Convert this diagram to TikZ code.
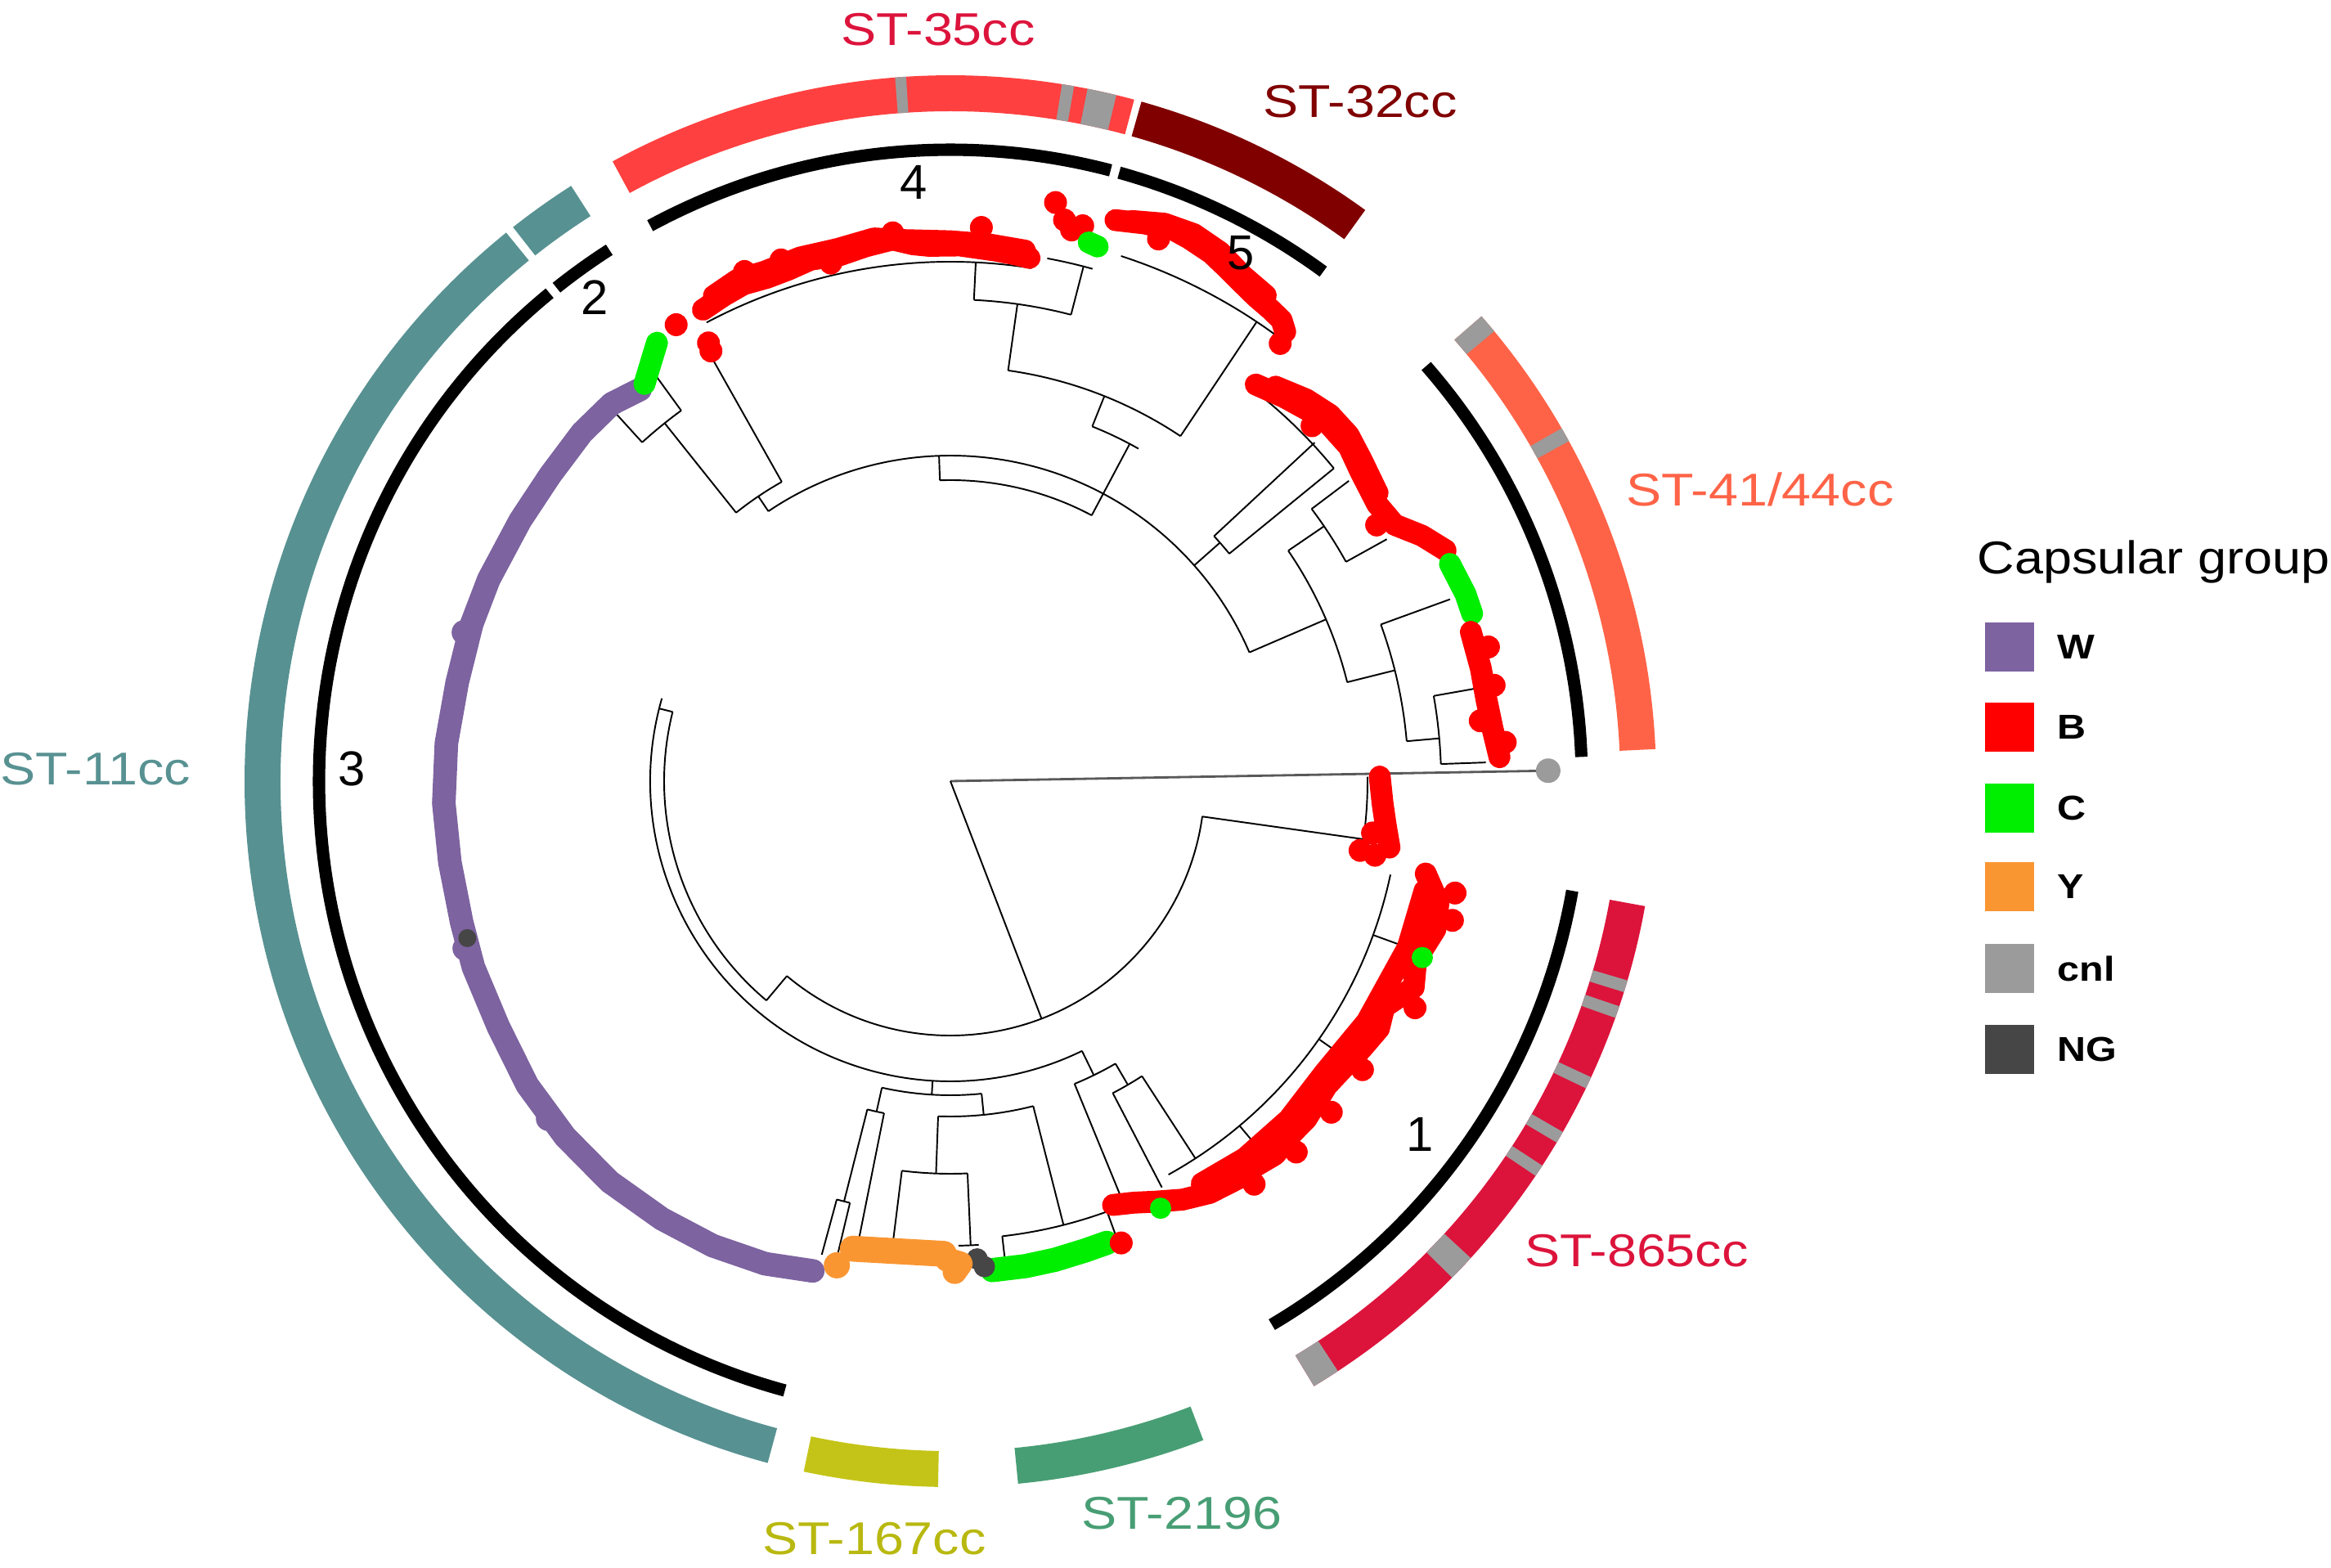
\documentclass[tikz,border=0pt]{standalone}
\usepackage{fontspec}
\setmainfont{Liberation Sans}
\usepackage{xcolor}
\usetikzlibrary{calc,positioning}

% Capsular groups
\definecolor{capW}{RGB}{125,99,160}
\definecolor{capB}{RGB}{255,0,0}
\definecolor{capC}{RGB}{0,238,0}
\definecolor{capY}{RGB}{250,150,50}
\definecolor{capcnl}{RGB}{155,155,155}
\definecolor{capNG}{RGB}{70,70,70}
% Clonal complexes
\definecolor{ccEleven}{RGB}{88,145,146}
\definecolor{ccOneSix}{RGB}{196,196,24}
\definecolor{ccOneSixTxt}{RGB}{184,184,16}
\definecolor{ccTwoOne}{RGB}{72,158,116}
\definecolor{ccEightSix}{RGB}{220,20,60}
\definecolor{ccFourOne}{RGB}{255,99,71}
\definecolor{ccThreeTwo}{RGB}{128,0,0}
\definecolor{ccThreeFive}{RGB}{255,64,64}

\newcommand{\widetxt}[1]{\scalebox{1.15}[1]{#1}}

\begin{document}
\begin{tikzpicture}[
    branch/.style={line width=0.55pt, black},
    tipline/.style={line width=7.6pt, line cap=round, line join=round},
    ringarc/.style={line width=12.5pt},
    cladearc/.style={line width=4.3pt, black},
    stlabel/.style={font=\fontsize{16}{18}\selectfont, inner sep=0pt},
    numlabel/.style={font=\fontsize{17}{19}\selectfont, inner sep=0pt},
    legbox/.style={minimum size=0.6cm, inner sep=0pt},
    legtext/.style={font=\fontsize{12}{14}\selectfont\bfseries, inner sep=0pt, anchor=west}
  ]

  \useasboundingbox (0,0) rectangle (28.5,19.16);

  % Root
  \coordinate (R) at (11.62,9.61);

  \begin{scope}[shift={(R)}]

    % --- Tree skeleton ---

    % Outlier
    \draw[line width=0.8pt, gray!70!black] (0,0) -- (1:7.31);

    % Lower backbone
    \draw[branch] (0,0) -- (291:3.11);
    \draw[branch] (230:3.11) arc[start angle=230, end angle=352, radius=3.11];
    \draw[branch] (352:3.11) -- (352:5.1);
    \draw[branch] (350:5.1) arc[start angle=350, end angle=360.6, radius=5.1];

    % Left arcs
    \draw[branch] (230:3.11) -- (230:3.5);
    \draw[branch] (166:3.5) arc[start angle=166, end angle=230, radius=3.5];
    \draw[branch] (166:3.5) -- (166:3.67);
    \draw[branch] (164:3.67) arc[start angle=164, end angle=296, radius=3.67];

    % Y / C subtree
    \draw[branch] (266.6:3.67) -- (266.6:3.84);
    \draw[branch] (257.4:3.84) arc[start angle=257.4, end angle=275.7, radius=3.84];
    \draw[branch] (257.4:3.84) -- (257.4:4.14);
    \draw[branch] (255.8:4.14) arc[start angle=255.8, end angle=258.7, radius=4.14];
    \draw[branch] (255.8:4.14) -- (255.8:5.3);
    \draw[branch] (254.8:5.3) arc[start angle=254.8, end angle=256.6, radius=5.3];
    \draw[branch] (254.8:5.3) -- (254.8:6.0);
    \draw[branch] (256.6:5.3) -- (256.6:5.95);
    \draw[branch] (258.7:4.14) -- (258.7:5.7);
    \draw[branch] (275.7:3.84) -- (275.7:4.1);
    \draw[branch] (267.9:4.1) arc[start angle=267.9, end angle=284.3, radius=4.1];
    \draw[branch] (267.9:4.1) -- (267.9:4.8);
    \draw[branch] (262.9:4.8) arc[start angle=262.9, end angle=272.5, radius=4.8];
    \draw[branch] (262.9:4.8) -- (262.9:5.7);
    \draw[branch] (272.5:4.8) -- (272.5:5.68);
    \draw[branch] (271:5.68) arc[start angle=271, end angle=273.5, radius=5.68];
    \draw[branch] (284.3:4.1) -- (284.3:5.6);
    \draw[branch] (276.5:5.6) arc[start angle=276.5, end angle=290, radius=5.6];
    \draw[branch] (276.5:5.6) -- (276.5:5.85);
    \draw[branch] (290:5.6) -- (290:5.9);

    % ST-865cc subtree
    \draw[branch] (296:3.67) -- (296:4.0);
    \draw[branch] (292.3:4.0) arc[start angle=292.3, end angle=300.3, radius=4.0];
    \draw[branch] (292.3:4.0) -- (292.3:5.45);
    \draw[branch] (300.3:4.0) -- (300.3:4.3);
    \draw[branch] (297.5:4.3) arc[start angle=297.5, end angle=303, radius=4.3];
    \draw[branch] (297.5:4.3) -- (297.5:5.6);
    \draw[branch] (303:4.3) -- (303:5.5);
    \draw[branch] (299:5.5) arc[start angle=299, end angle=348, radius=5.5];
    \draw[branch] (310:5.5) -- (310:5.75);
    \draw[branch] (325:5.5) -- (325:5.8);
    \draw[branch] (340:5.5) -- (340:5.85);

    % Upper backbone
    \draw[branch] (23.3:3.98) arc[start angle=23.3, end angle=124, radius=3.98];
    \draw[branch] (62:3.68) arc[start angle=62, end angle=92, radius=3.68];
    \draw[branch] (92:3.68) -- (92:3.98);
    \draw[branch] (62:3.68) -- (62:4.67);
    \draw[branch] (60.5:4.67) arc[start angle=60.5, end angle=68.2, radius=4.67];
    \draw[branch] (68.2:4.67) -- (68.2:5.07);
    \draw[branch] (56.3:5.07) arc[start angle=56.3, end angle=82, radius=5.07];
    \draw[branch] (56.3:5.07) -- (56.3:6.75);
    \draw[branch] (53.5:6.75) arc[start angle=53.5, end angle=72, radius=6.75];
    \draw[branch] (82:5.07) -- (82:5.89);
    \draw[branch] (75.5:5.89) arc[start angle=75.5, end angle=87.2, radius=5.89];
    \draw[branch] (87.2:5.89) -- (87.2:6.35);
    \draw[branch] (81:6.35) arc[start angle=81, end angle=118, radius=6.35];
    \draw[branch] (75.5:5.89) -- (75.5:6.5);
    \draw[branch] (74.5:6.5) arc[start angle=74.5, end angle=79.5, radius=6.5];

    % Top-left subtree
    \draw[branch] (124:3.98) -- (124:4.2);
    \draw[branch] (119.4:4.2) arc[start angle=119.4, end angle=128.6, radius=4.2];
    \draw[branch] (119.4:4.2) -- (119.4:6.0);
    \draw[branch] (128.6:4.2) -- (128.6:5.6);
    \draw[branch] (126:5.6) arc[start angle=126, end angle=132.3, radius=5.6];
    \draw[branch] (126:5.6) -- (126:6.1);
    \draw[branch] (132.3:5.6) -- (132.3:6.1);

    % ST-41/44cc subtree
    \draw[branch] (41.5:3.98) -- (41.5:4.4);
    \draw[branch] (39.2:4.4) arc[start angle=39.2, end angle=42.9, radius=4.4];
    \draw[branch] (42.9:4.4) -- (42.9:6.08);
    \draw[branch] (39.2:4.4) -- (39.2:6.05);
    \draw[branch] (39.2:6.05) arc[start angle=39.2, end angle=52, radius=6.05];
    \draw[branch] (23.3:3.98) -- (23.3:5.0);
    \draw[branch] (14:5.0) arc[start angle=14, end angle=34.3, radius=5.0];
    \draw[branch] (34.3:5.0) -- (34.3:5.53);
    \draw[branch] (29:5.53) arc[start angle=29, end angle=37, radius=5.53];
    \draw[branch] (29:5.53) -- (29:6.1);
    \draw[branch] (37:5.53) -- (37:6.1);
    \draw[branch] (14:5.0) -- (14:5.6);
    \draw[branch] (5:5.6) arc[start angle=5, end angle=20, radius=5.6];
    \draw[branch] (20:5.6) -- (20:6.5);
    \draw[branch] (5:5.6) -- (5:6.0);
    \draw[branch] (2:6.0) arc[start angle=2, end angle=10, radius=6.0];
    \draw[branch] (2:6.0) -- (2:6.55);
    \draw[branch] (10:6.0) -- (10:6.5);

    % --- Tips ---

    % W
    \draw[tipline, capW, line width=8.2pt] plot coordinates {(128.4:6.11) (131.9:6.2) (136.6:6.2) (142.6:6.16) (148.8:6.15) (156.4:6.16) (161.8:6.16) (168.7:6.15) (175.7:6.18) (182.5:6.2) (189.2:6.2) (196.1:6.22) (201.3:6.26) (208.5:6.29) (215.7:6.37) (222.7:6.41) (229.6:6.43) (236.6:6.41) (242.9:6.38) (249:6.32) (254.3:6.22)};
    \fill[capW] (163:6.22) circle (0.15) (199:6.28) circle (0.15) (220:6.42) circle (0.15);
    \fill[capNG] (198:6.21) circle (0.11);

    % top-left C and B
    \draw[tipline, capC] plot coordinates {(127.6:6.13) (125.5:6.3) (123.8:6.45)};
    \fill[capB] (121:6.51) circle (0.14) (118.9:6.12) circle (0.14) (119.1:6.02) circle (0.14);

    % ST-35cc tips
    \draw[tipline, capB] plot coordinates {(117.7:6.51) (115:6.55) (112.6:6.58) (110:6.55) (107.6:6.56) (105:6.6) (101.9:6.57) (99:6.62) (96.1:6.66) (94:6.58) (92.3:6.55) (89:6.55) (85.1:6.51) (83:6.49) (81.4:6.47)};
    \draw[tipline, capB] plot coordinates {(116:6.6) (113:6.66) (110:6.63) (106:6.66) (102:6.65) (98:6.7) (95:6.64) (90:6.6) (86:6.58) (82:6.55)};
    \fill[capB] (86.8:6.78) circle (0.14) (96:6.74) circle (0.14) (108:6.7) circle (0.14) (112:6.72) circle (0.14) (103:6.5) circle (0.14);
    \fill[capB] (79.7:7.19) circle (0.14) (78.5:7.0) circle (0.14) (77.6:6.9) circle (0.14) (76.6:6.98) circle (0.14);
    \draw[tipline, capC] plot coordinates {(75.6:6.8) (74.6:6.78)};

    % ST-32cc tips
    \draw[tipline, capB] plot coordinates {(73.6:7.15) (70.8:7.22) (67.9:7.27) (66.3:7.25) (63.7:7.2) (61.8:7.13) (59.8:7.06) (57.7:7.0) (55.8:6.97) (54.3:6.94) (53.3:6.85)};
    \draw[tipline, capB] plot coordinates {(72:7.2) (69:7.3) (66:7.32) (63:7.26) (60:7.14) (57:7.08)};
    \fill[capB] (53:6.7) circle (0.14) (69:7.1) circle (0.14);

    % ST-41/44cc tips
    \draw[tipline, capB] plot coordinates {(52.4:6.12) (49:6.22) (46:6.3) (43.5:6.36) (40:6.36) (37:6.28) (33:6.22) (30:6.27) (27.5:6.5) (25:6.68)};
    \draw[tipline, capB] plot coordinates {(50.5:6.25) (47:6.38) (44:6.45) (41:6.45) (38:6.38) (34:6.3)};
    \draw[tipline, capC] plot coordinates {(23.5:6.66) (20:6.7) (17.8:6.7)};
    \draw[tipline, capB] plot coordinates {(16:6.62) (12:6.63) (8.6:6.63) (5.5:6.66) (2.5:6.72)};
    \fill[capB] (14:6.78) circle (0.14) (4:6.8) circle (0.14) (6.5:6.52) circle (0.14) (31:6.08) circle (0.14) (44.5:6.2) circle (0.14) (10:6.75) circle (0.14);

    % small cluster
    \draw[tipline, capB] plot coordinates {(0.6:5.25) (-2.9:5.29) (-5.8:5.35) (-8.6:5.43)};
    \fill[capB] (-9.9:5.27) circle (0.14) (-9.6:5.08) circle (0.14) (-7:5.2) circle (0.14);

    % ST-865cc tips
    \draw[tipline, capB] plot coordinates {(-11:5.92) (-14:6.15) (-17:6.2) (-21:6.1) (-24:6.2) (-27.5:5.98) (-30:6.05) (-33:6.0) (-36:5.95) (-39:5.92) (-43.5:6.0) (-46:6.0) (-49:6.05) (-52:6.0) (-54:6.0) (-57.8:5.95) (-61:5.85) (-64:5.72) (-66.5:5.62) (-69:5.55)};
    \draw[tipline, capB] plot coordinates {(-13:5.95) (-20:5.95) (-30:5.88) (-38:5.8) (-45:5.85) (-52:5.85) (-58:5.8)};
    \fill[capB] (-15.5:6.37) circle (0.14) (-12.5:6.32) circle (0.14) (-26:6.32) circle (0.14) (-41:6.17) circle (0.14) (-47:6.2) circle (0.14) (-53:6.17) circle (0.14) (-35:6.15) circle (0.14);
    \fill[capC] (-20.5:6.16) circle (0.13) (-63.8:5.82) circle (0.13);

    % C at the bottom
    \draw[tipline, capC, line width=8.4pt] plot coordinates {(274.9:6.0) (278.8:6.0) (282.3:5.99) (286:5.97) (288.7:5.96)};
    \fill[capB] (290.3:6.02) circle (0.14);
    \fill[capNG] (273.2:5.85) circle (0.13) (274:5.95) circle (0.13);

    % Y
    \draw[tipline, capY, line width=9pt] plot coordinates {(258.2:5.84) (269.2:5.78)};
    \draw[tipline, capY, line width=8.4pt] plot coordinates {(269.6:5.85) (271.2:5.9) (270.5:6.0)};
    \fill[capY] (256.8:6.08) circle (0.16);

    % Outlier tip
    \fill[capcnl] (1:7.31) circle (0.15);

    % --- Clade arcs ---
    \draw[cladearc] (300.6:7.72) arc[start angle=300.6, end angle=350, radius=7.72];
    \draw[cladearc] (122.7:7.72) arc[start angle=122.7, end angle=128.6, radius=7.72];
    \draw[cladearc] (129.4:7.72) arc[start angle=129.4, end angle=254.8, radius=7.72];
    \draw[cladearc] (75.3:7.72) arc[start angle=75.3, end angle=118.4, radius=7.72];
    \draw[cladearc] (53.8:7.72) arc[start angle=53.8, end angle=74.5, radius=7.72];
    \draw[cladearc] (2.2:7.72) arc[start angle=2.2, end angle=41.1, radius=7.72];

    % --- Clonal complex ring ---
    \draw[ringarc, ccEleven] (122.5:8.41) arc[start angle=122.5, end angle=128.3, radius=8.41];
    \draw[ringarc, ccEleven] (129:8.41) arc[start angle=129, end angle=255, radius=8.41];
    \draw[ringarc, ccOneSix] (258:8.41) arc[start angle=258, end angle=269, radius=8.41];
    \draw[ringarc, ccTwoOne] (275.5:8.41) arc[start angle=275.5, end angle=291, radius=8.41];
    \draw[ringarc, ccEightSix] (301:8.41) arc[start angle=301, end angle=349.8, radius=8.41];
    \draw[ringarc, capcnl] (301:8.41) arc[start angle=301, end angle=303.3, radius=8.41];
    \draw[ringarc, capcnl] (315.3:8.41) arc[start angle=315.3, end angle=317.5, radius=8.41];
    \draw[ringarc, capcnl] (326:8.41) arc[start angle=326, end angle=327, radius=8.41];
    \draw[ringarc, capcnl] (329.2:8.41) arc[start angle=329.2, end angle=330.2, radius=8.41];
    \draw[ringarc, capcnl] (334.2:8.41) arc[start angle=334.2, end angle=335.2, radius=8.41];
    \draw[ringarc, capcnl] (340.4:8.41) arc[start angle=340.4, end angle=341.4, radius=8.41];
    \draw[ringarc, capcnl] (342.6:8.41) arc[start angle=342.6, end angle=343.6, radius=8.41];
    \draw[ringarc, ccFourOne] (2.6:8.41) arc[start angle=2.6, end angle=41.2, radius=8.41];
    \draw[ringarc, capcnl] (39.6:8.41) arc[start angle=39.6, end angle=41.2, radius=8.41];
    \draw[ringarc, capcnl] (28.8:8.41) arc[start angle=28.8, end angle=30, radius=8.41];
    \draw[ringarc, ccThreeTwo] (54:8.41) arc[start angle=54, end angle=74.3, radius=8.41];
    \draw[ringarc, ccThreeFive] (74.9:8.41) arc[start angle=74.9, end angle=118.6, radius=8.41];
    \draw[ringarc, capcnl] (93.6:8.41) arc[start angle=93.6, end angle=94.5, radius=8.41];
    \draw[ringarc, capcnl] (79.9:8.41) arc[start angle=79.9, end angle=80.9, radius=8.41];
    \draw[ringarc, capcnl] (76.4:8.41) arc[start angle=76.4, end angle=78.8, radius=8.41];

  \end{scope}

  % Clonal complex labels
  \node[stlabel, text=ccEightSix] (lab35) at (11.47,18.80) {\widetxt{ST-35cc}};
  \node[stlabel, text=ccThreeTwo] (lab32) at (16.63,17.92) {\widetxt{ST-32cc}};
  \node[stlabel, text=ccFourOne] (lab41) at (21.52,13.18) {\widetxt{ST-41/44cc}};
  \node[stlabel, text=ccEightSix] (lab865) at (20.01,3.87) {\widetxt{ST-865cc}};
  \node[stlabel, text=ccTwoOne] (lab2196) at (14.45,0.66) {\widetxt{ST-2196}};
  \node[stlabel, text=ccOneSixTxt] (lab167) at (10.69,0.35) {\widetxt{ST-167cc}};
  \node[stlabel, text=ccEleven, anchor=west] (lab11) at (0.0,9.76) {\widetxt{ST-11cc}};

  % Clade numbers
  \node[numlabel] (n1) at (17.36,5.29) {1};
  \node[numlabel] (n2) at (7.27,15.52) {2};
  \node[numlabel] (n3) at (4.30,9.76) {3};
  \node[numlabel] (n4) at (11.17,16.93) {4};
  \node[numlabel] (n5) at (15.17,16.07) {5};

  % Legend
  \node[stlabel, anchor=west] (legtitle) at (24.17,12.29) {\scalebox{1.12}[1]{Capsular group}};
  \node[legbox, fill=capW] (boxW) at (24.57,11.25) {};
  \node[legbox, fill=capB] (boxB) at (24.57,10.27) {};
  \node[legbox, fill=capC] (boxC) at (24.57,9.28) {};
  \node[legbox, fill=capY] (boxY) at (24.57,8.32) {};
  \node[legbox, fill=capcnl] (boxcnl) at (24.57,7.32) {};
  \node[legbox, fill=capNG] (boxNG) at (24.57,6.33) {};
  \node[legtext, right=0.27cm of boxW] (labW) {\widetxt{W}};
  \node[legtext, right=0.27cm of boxB] (labB) {\widetxt{B}};
  \node[legtext, right=0.27cm of boxC] (labC) {\widetxt{C}};
  \node[legtext, right=0.27cm of boxY] (labY) {\widetxt{Y}};
  \node[legtext, right=0.27cm of boxcnl] (labcnl) {\widetxt{cnl}};
  \node[legtext, right=0.27cm of boxNG] (labNG) {\widetxt{NG}};

\end{tikzpicture}
\end{document}
